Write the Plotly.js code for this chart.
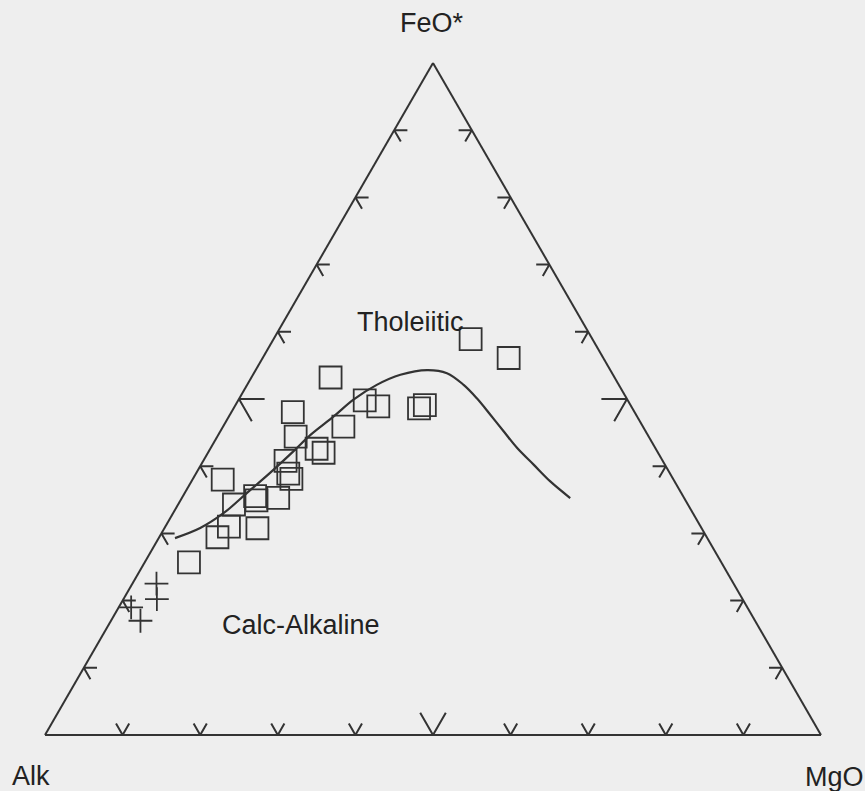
<!DOCTYPE html>
<html>
<head>
<meta charset="utf-8">
<script src="https://cdn.plot.ly/plotly-3.0.1.min.js"></script>
<style>html,body{margin:0;padding:0;background:#eeeeee;}</style>
</head>
<body>
<div id="chart" style="width:865px;height:791px;"></div>
<script>
// Apex labels
const apexLabels = ["FeO*", "Alk", "MgO"];
const fieldLabels = ["Tholeiitic", "Calc-Alkaline"];

// Square samples (wt% normalised): FeO*, Alk, MgO
const sqFeO = [58.9, 56.1, 53.2, 49.8, 48.9, 48.6, 49.1, 48.0, 45.9, 44.4, 42.6, 42.0, 40.8, 38.9, 38.1, 38.0, 35.5, 34.9, 35.3, 34.3, 31.0, 29.4, 30.8, 25.7];
const sqAlk = [15.7, 12.2, 36.6, 33.9, 32.6, 27.5, 26.5, 44.0, 38.6, 45.5, 43.7, 43.1, 48.6, 49.2, 49.2, 58.1, 55.1, 55.3, 52.3, 58.5, 60.8, 63.0, 57.3, 68.6];
const sqMgO = [25.4, 31.7, 10.2, 16.3, 18.5, 23.9, 24.4, 7.9, 15.5, 10.1, 13.7, 14.9, 10.6, 11.9, 12.7, 3.9, 9.3, 9.8, 12.4, 7.2, 8.2, 7.5, 12.0, 5.7];

// Cross samples
const crFeO = [22.5, 20.2, 17.0, 19.0];
const crAlk = [74.3, 75.4, 79.2, 79.4];
const crMgO = [3.1, 4.3, 3.8, 1.6];

// Tholeiitic / calc-alkaline boundary
const bdFeO = [29.3, 30.8, 33.0, 36.0, 39.0, 42.2, 44.7, 47.4, 49.9, 52.1, 53.6, 54.3, 53.9, 52.1, 50.1, 47.7, 45.2, 42.7, 40.2, 37.7, 35.3];
const bdAlk = [68.6, 64.6, 60.5, 56.0, 51.5, 46.9, 43.5, 39.1, 35.3, 31.2, 27.4, 23.6, 21.3, 20.0, 19.3, 18.8, 18.3, 17.8, 16.9, 16.0, 14.7];
const bdMgO = [2.1, 4.6, 6.5, 8.0, 9.5, 10.9, 11.9, 13.5, 14.8, 16.7, 19.0, 22.1, 24.9, 27.9, 30.6, 33.6, 36.5, 39.5, 42.9, 46.2, 50.1];

// Tick values along each edge (%)
const tickVals = [10, 20, 30, 40, 50, 60, 70, 80, 90];

const INK = '#333333';
const SMALL = 1.7, BIG = 3.3;

// Build arrow-like tick marks (two strokes parallel to the other edges)
const ta = [], tb = [], tc = [];
function seg(p1, v, p2) {
  ta.push(p1[0], v[0], p2[0], null);
  tb.push(p1[1], v[1], p2[1], null);
  tc.push(p1[2], v[2], p2[2], null);
}
tickVals.forEach(function (v) {
  const L = (v === 50) ? BIG : SMALL;
  // left edge (MgO = 0), FeO = v
  seg([v, 100 - v - L, L], [v, 100 - v, 0], [v - L, 100 - v, L]);
  // right edge (Alk = 0), FeO = v
  seg([v, L, 100 - v - L], [v, 0, 100 - v], [v - L, L, 100 - v]);
  // bottom edge (FeO = 0), MgO = v
  seg([L, 100 - v - L, v], [0, 100 - v, v], [L, 100 - v, v - L]);
});

const traces = [
  {type: 'scatterternary', mode: 'lines', a: ta, b: tb, c: tc,
   line: {color: INK, width: 2}, hoverinfo: 'skip', showlegend: false},
  {type: 'scatterternary', mode: 'lines', a: bdFeO, b: bdAlk, c: bdMgO,
   line: {color: INK, width: 2.2, shape: 'spline', smoothing: 1}, showlegend: false},
  {type: 'scatterternary', mode: 'markers', a: sqFeO, b: sqAlk, c: sqMgO,
   marker: {symbol: 'square-open', size: 22, color: INK, line: {width: 1.8, color: INK}}, showlegend: false},
  {type: 'scatterternary', mode: 'markers', a: crFeO, b: crAlk, c: crMgO,
   marker: {symbol: 'cross-thin-open', size: 17, color: INK, line: {width: 1.8, color: INK}}, showlegend: false}
];

const axisStyle = {showline: true, linecolor: INK, linewidth: 2, showgrid: false,
  ticks: '', showticklabels: false, title: {text: ''}};

const FONT = {family: 'Liberation Sans, Arial, sans-serif', size: 27, color: '#222222'};

function ann(text, x, y) {
  return {text: text, x: x, y: y, xref: 'paper', yref: 'paper', showarrow: false,
    xanchor: 'center', yanchor: 'middle', font: FONT};
}

const layout = {
  width: 865, height: 791,
  margin: {l: 45, r: 44, t: 63, b: 56, pad: 0},
  paper_bgcolor: '#eeeeee',
  ternary: {
    sum: 100,
    bgcolor: 'rgba(0,0,0,0)',
    aaxis: axisStyle, baxis: axisStyle, caxis: axisStyle
  },
  annotations: [
    ann(apexLabels[0], 0.4987, 1.0588),
    ann(apexLabels[1], -0.018, -0.061),
    ann(apexLabels[2], 1.0168, -0.0625),
    ann(fieldLabels[0], 0.4704, 0.6146),
    ann(fieldLabels[1], 0.3299, 0.1637)
  ]
};

Plotly.newPlot('chart', traces, layout, {displayModeBar: false, staticPlot: true});
</script>
</body>
</html>
